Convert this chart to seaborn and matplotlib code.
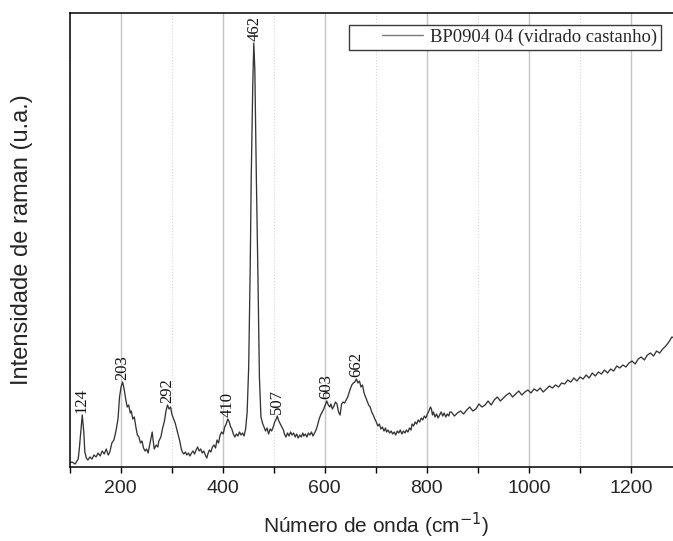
import numpy as np
import pandas as pd
import matplotlib
matplotlib.use("Agg")
import matplotlib.pyplot as plt
import seaborn as sns
from matplotlib.ticker import MultipleLocator
from matplotlib.legend_handler import HandlerLine2D

# ---- data ----
wavenumber = [
    100, 105, 111, 117, 119, 123, 125, 128, 130, 133, 136, 140, 144, 148, 152, 156, 160, 164, 168, 172,
    176, 179, 183, 187, 191, 195, 198, 201, 204, 207, 210, 213, 216, 219, 221, 224, 227, 230, 233, 236,
    239, 242, 245, 248, 251, 254, 257, 260, 262, 264, 266, 270, 273, 275, 279, 282, 286, 289, 292, 295,
    298, 301, 304, 307, 310, 313, 316, 319, 321, 324, 327, 330, 333, 336, 339, 342, 345, 348, 351, 354,
    357, 360, 363, 366, 369, 371, 374, 377, 380, 383, 386, 389, 392, 395, 398, 401, 404, 407, 410, 413,
    415, 418, 421, 424, 427, 430, 433, 436, 439, 442, 445, 448, 451, 454, 456, 459, 461, 463, 466, 469,
    472, 475, 478, 481, 484, 487, 490, 493, 496, 499, 502, 505, 507, 510, 513, 516, 519, 521, 524, 527,
    530, 533, 536, 539, 542, 545, 548, 551, 554, 557, 559, 562, 565, 568, 571, 574, 577, 580, 583, 586,
    589, 592, 595, 598, 601, 604, 607, 610, 612, 615, 618, 621, 624, 627, 630, 633, 636, 639, 642, 645,
    648, 650, 653, 656, 659, 662, 665, 668, 671, 674, 677, 680, 683, 686, 689, 692, 695, 698, 701, 704,
    707, 710, 713, 716, 719, 721, 724, 727, 730, 733, 736, 739, 742, 745, 748, 751, 754, 757, 760, 763,
    766, 769, 771, 774, 777, 780, 783, 786, 789, 792, 795, 798, 801, 804, 807, 809, 811, 813, 816, 819,
    822, 825, 828, 831, 834, 837, 840, 843, 845,
    848, 854, 860, 866, 872, 878, 884, 890, 896, 902,
    908, 914, 920, 926, 932, 938, 944, 950, 956, 962,
    968, 974, 980, 986, 992, 998, 1004, 1010, 1016, 1022,
    1028, 1034, 1040, 1046, 1052, 1058, 1064, 1070, 1076, 1082,
    1088, 1094, 1100, 1106, 1112, 1118, 1124, 1130, 1136, 1142,
    1148, 1154, 1160, 1166, 1172, 1178, 1184, 1190, 1196, 1202,
    1208, 1214, 1220, 1226, 1232, 1238, 1244, 1250, 1256, 1262,
    1268, 1274, 1280, 1284,
]
intensity = [
    4, 5, 3, 8, 17, 40, 52, 35, 15, 9, 7, 10, 8, 12, 10, 14, 11, 16, 13, 18,
    12, 15, 24, 27, 36, 48, 70, 80, 85, 78, 68, 60, 62, 54, 56, 48, 50, 40, 32, 30,
    24, 26, 19, 16, 18, 14, 22, 30, 35, 26, 18, 22, 20, 26, 30, 38, 46, 56, 62, 58,
    60, 52, 48, 44, 38, 32, 26, 18, 15, 13, 15, 12, 14, 11, 14, 16, 13, 17, 20, 16,
    18, 14, 16, 12, 9, 13, 17, 15, 20, 22, 19, 27, 24, 32, 35, 33, 40, 43, 48, 45,
    41, 38, 33, 30, 33, 31, 35, 32, 34, 31, 38, 55, 100, 200, 290, 382, 424, 398, 290, 195,
    90, 50, 44, 40, 36, 39, 33, 38, 36, 40, 45, 48, 51, 46, 43, 40, 37, 33, 30, 34,
    31, 35, 32, 34, 30, 33, 29, 32, 30, 34, 31, 33, 30, 34, 32, 35, 31, 34, 37, 42,
    48, 52, 55, 58, 62, 66, 62, 60, 63, 58, 61, 65, 63, 55, 52, 63, 65, 64, 67, 70,
    75, 78, 82, 84, 85, 88, 84, 86, 80, 82, 74, 70, 66, 62, 60, 55, 52, 48, 45, 41,
    43, 38, 40, 36, 39, 35, 37, 34, 36, 33, 35, 32, 36, 34, 37, 33, 36, 34, 37, 35,
    39, 37, 43, 41, 45, 43, 47, 45, 49, 47, 51, 49, 53, 56, 60, 58, 52, 55, 50, 53,
    49, 52, 55, 51, 54, 50, 53, 51, 55,
    55, 51, 54, 56, 53, 57, 60, 56, 58, 63,
    60, 62, 66, 62, 67, 70, 66, 69, 72, 74,
    70, 73, 76, 72, 75, 77, 74, 78, 76, 79,
    75, 78, 81, 79, 82, 80, 84, 83, 87, 85,
    89, 86, 90, 88, 92, 89, 94, 91, 95, 93,
    97, 94, 98, 96, 101, 99, 102, 100, 104, 106,
    103, 108, 110, 107, 112, 114, 111, 116, 114, 118,
    121, 125, 130, 129,
]
peak_positions = [124, 203, 292, 410, 462, 507, 603, 662]
peak_labels = ["124", "203", "292", "410", "462", "507", "603", "662"]
series_label = "BP0904 04 (vidrado castanho)"
x_label = "Número de onda (cm$^{-1}$)"
y_label = "Intensidade de raman (u.a.)"

df = pd.DataFrame({"wavenumber": wavenumber, "intensity": intensity})

sns.set_style("ticks")
plt.rcParams["font.family"] = ["Liberation Sans", "DejaVu Sans"]

W, H = 673, 541
fig = plt.figure(figsize=(W / 100, H / 100), dpi=100)
ax_left, ax_right, ax_top, ax_bottom = 69.5, 682.1, 13, 467
ax_w = ax_right - ax_left
ax_h = ax_bottom - ax_top
ax = fig.add_axes([ax_left / W, (H - ax_bottom) / H, ax_w / W, ax_h / H])

line_color = "#353535"
sns.lineplot(data=df, x="wavenumber", y="intensity", ax=ax, color=line_color,
             linewidth=0.95, label=series_label, sort=False)

ax.set_xlim(100, 1300)
ax.set_ylim(0, 454)
ax.set_yticks([])
ax.xaxis.set_major_locator(MultipleLocator(200))
ax.xaxis.set_minor_locator(MultipleLocator(100))
ax.grid(which="major", axis="x", color="#c4c4c4", linewidth=1.0, linestyle="-")
ax.grid(which="minor", axis="x", color="#d6d6d6", linewidth=0.8, linestyle=":")
ax.set_axisbelow(True)
ax.tick_params(axis="x", which="major", direction="out", length=4.5, width=1.0,
               labelsize=14, pad=5, color="black")
ax.tick_params(axis="x", which="minor", direction="out", length=4.0, width=1.0, color="black")
for side in ["left", "bottom", "top"]:
    ax.spines[side].set_color("black")
    ax.spines[side].set_linewidth(1.1)
ax.spines["right"].set_visible(False)

ax.set_xlabel(x_label, fontsize=15, labelpad=10)
ax.set_ylabel(y_label, fontsize=17)
ax.yaxis.set_label_coords((33 - ax_left) / ax_w, 0.5)

# peak annotations
wn_arr = np.array(wavenumber)
in_arr = np.array(intensity)
for pos, lab in zip(peak_positions, peak_labels):
    win = np.abs(wn_arr - pos) <= 4
    ytop = in_arr[win].max()
    ax.annotate(lab, xy=(pos, ytop), xytext=(0, 1.5), textcoords="offset points",
                rotation=90, ha="center", va="bottom", fontsize=12,
                family=["Liberation Serif", "DejaVu Serif"], color="#111111")


class ShiftedLine(HandlerLine2D):
    def create_artists(self, legend, orig_handle, xdescent, ydescent, width, height, fontsize, trans):
        artists = super().create_artists(legend, orig_handle, xdescent, ydescent, width,
                                          height, fontsize, trans)
        for a in artists:
            xd = np.asarray(a.get_xdata(), dtype=float)
            if xd.size >= 2:
                x0 = -xdescent + 0.42 * width
                x1 = -xdescent + width
                a.set_xdata(np.linspace(x0, x1, xd.size))
        return artists


handles, labels = ax.get_legend_handles_labels()
leg = ax.legend(handles, labels, loc="upper right",
                bbox_to_anchor=((661 - ax_left) / ax_w, (ax_bottom - 25) / ax_h),
                borderaxespad=0, frameon=True, fancybox=False, framealpha=1,
                edgecolor="#3a3a3a", handlelength=3.76, handletextpad=0.4, borderpad=0.2,
                prop={"family": ["Liberation Serif", "DejaVu Serif"], "size": 13.4},
                handler_map={matplotlib.lines.Line2D: ShiftedLine()})
leg.get_frame().set_linewidth(1.0)
for lh in leg.get_lines():
    lh.set_color("#7a7a7a")
    lh.set_linewidth(1.0)

fig.savefig("out.png", dpi=100)
